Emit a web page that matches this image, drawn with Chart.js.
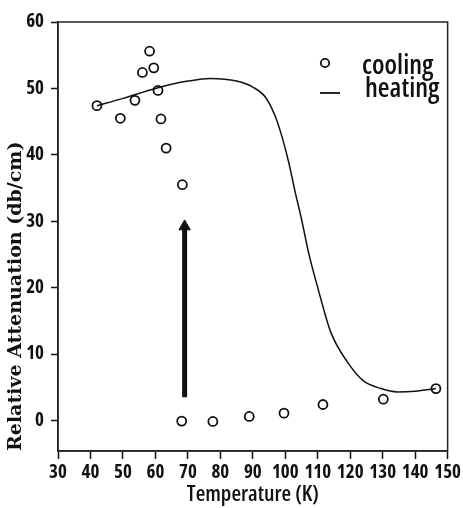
<!DOCTYPE html>
<html>
<head>
<meta charset="utf-8">
<script src="https://cdn.jsdelivr.net/npm/chart.js@4.4.0/dist/chart.umd.min.js"></script>
<style>
html,body{margin:0;padding:0;background:#fff;}
canvas{display:block;}
</style>
</head>
<body>
<canvas id="c" width="463" height="508"></canvas>
<script>
// ---- data ----
const coolingT = [42.0, 49.2, 53.7, 56.0, 58.2, 59.5, 60.8, 61.7, 63.3, 68.3, 68.1, 77.7, 88.9, 99.6, 111.6, 130.2, 146.4];
const coolingA = [47.4, 45.5, 48.2, 52.4, 55.6, 53.1, 49.7, 45.4, 41.0, 35.5, -0.1, -0.15, 0.6, 1.1, 2.4, 3.2, 4.8];

const heatingT = [42, 50, 60, 70, 77, 85, 90, 94, 97, 99, 101, 103, 105, 107.3, 110, 114, 119, 124, 129.5, 134.5, 140, 146.4];
const heatingA = [47.4, 48.5, 50.0, 51.1, 51.5, 51.1, 50.2, 48.6, 45.7, 42.7, 39.0, 34.5, 30.3, 25.0, 20.0, 13.3, 8.9, 6.0, 4.8, 4.3, 4.4, 4.8];

const arrowT = [69, 69];
const arrowA = [3.5, 29.2];

const xTicks = [30, 40, 50, 60, 70, 80, 90, 100, 110, 120, 130, 140, 150];
const yTicks = [0, 10, 20, 30, 40, 50, 60];
const legendLabels = ['cooling', 'heating'];
const xTitle = 'Temperature (K)';
const yTitle = 'Relative Attenuation (db/cm)';

const toXY = (xs, ys) => xs.map((x, i) => ({x: x, y: ys[i]}));

const INK = '#111';
const narrow = '"Open Sans", Roboto, sans-serif';

const framePlugin = {
  id: 'frame',
  afterDatasetsDraw(chart) {
    const a = chart.chartArea, ctx = chart.ctx;
    ctx.save();
    ctx.strokeStyle = '#222';
    ctx.lineWidth = 1.5;
    ctx.strokeRect(a.left, a.top, a.right - a.left, a.bottom - a.top);
    ctx.restore();
  }
};

const legendPlugin = {
  id: 'customLegend',
  afterDraw(chart) {
    const a = chart.chartArea, ctx = chart.ctx;
    ctx.save();
    ctx.strokeStyle = INK;
    ctx.lineWidth = 1.8;
    ctx.beginPath();
    ctx.arc(a.left + 267, a.top + 41, 4.2, 0, Math.PI * 2);
    ctx.stroke();
    ctx.lineWidth = 1.8;
    ctx.beginPath();
    ctx.moveTo(a.left + 262, a.top + 71);
    ctx.lineTo(a.left + 282, a.top + 71);
    ctx.stroke();
    ctx.fillStyle = INK;
    ctx.font = '600 condensed 27px ' + narrow;
    ctx.textAlign = 'left';
    ctx.textBaseline = 'alphabetic';
    ctx.fillText(legendLabels[0], a.left + 304, a.top + 52);
    ctx.fillText(legendLabels[1], a.left + 307, a.top + 75);
    ctx.restore();
  }
};

new Chart(document.getElementById('c'), {
  type: 'scatter',
  data: {
    datasets: [
      {
        label: legendLabels[1],
        type: 'line',
        data: toXY(heatingT, heatingA),
        borderColor: INK,
        borderWidth: 1.5,
        pointRadius: 0,
        fill: false,
        cubicInterpolationMode: 'monotone',
        order: 2
      },
      {
        label: 'arrow',
        type: 'line',
        data: toXY(arrowT, arrowA),
        borderColor: INK,
        borderWidth: 5,
        borderCapStyle: 'butt',
        pointStyle: 'triangle',
        pointRadius: [0, 6.6],
        pointBackgroundColor: INK,
        pointBorderColor: INK,
        pointBorderWidth: 1,
        fill: false,
        order: 1
      },
      {
        label: legendLabels[0],
        data: toXY(coolingT, coolingA),
        showLine: false,
        pointStyle: 'circle',
        pointRadius: 4.5,
        pointBorderWidth: 1.8,
        pointBorderColor: INK,
        pointBackgroundColor: 'rgba(0,0,0,0)',
        order: 0
      }
    ]
  },
  options: {
    responsive: false,
    animation: false,
    layout: { padding: { top: 22, right: 8, left: 0, bottom: 0 } },
    plugins: {
      legend: { display: false },
      tooltip: { enabled: false }
    },
    scales: {
      x: {
        type: 'linear',
        min: 30,
        max: 150,
        afterBuildTicks: s => { s.ticks = xTicks.map(v => ({value: v})); },
        afterFit: s => { s.height = 57; },
        grid: { display: true, drawOnChartArea: false, drawTicks: true, tickLength: 8, color: INK, tickWidth: 1.5 },
        border: { display: true, color: '#222', width: 1.5 },
        ticks: { color: INK, padding: 2, maxRotation: 0, autoSkip: false, font: { family: narrow, size: 19, weight: 'bold condensed' } },
        title: { display: true, text: xTitle, color: INK, padding: { top: 0, bottom: 0 }, font: { family: narrow, size: 22, weight: '600 condensed' } }
      },
      y: {
        type: 'linear',
        min: -4.6,
        max: 60,
        afterBuildTicks: s => { s.ticks = yTicks.map(v => ({value: v})); },
        afterFit: s => { s.width = 58; },
        grid: { display: true, drawOnChartArea: false, drawTicks: true, tickLength: 7, color: INK, tickWidth: 1.5 },
        border: { display: true, color: '#222', width: 1.5 },
        ticks: { color: INK, padding: 7, autoSkip: false, font: { family: narrow, size: 19, weight: 'bold condensed' } },
        title: { display: true, text: yTitle, color: INK, align: 'start', padding: { top: 5, bottom: 0 }, font: { family: '"DejaVu Serif", "Liberation Serif", serif', size: 19, weight: 'bold' } }
      }
    }
  },
  plugins: [framePlugin, legendPlugin]
});
</script>
</body>
</html>
